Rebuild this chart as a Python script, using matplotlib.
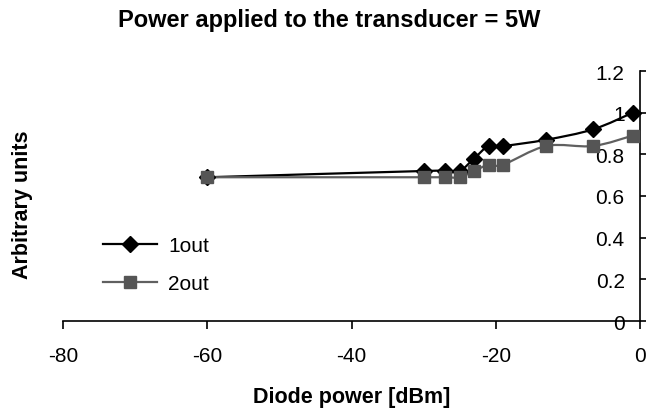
import numpy as np
import matplotlib
matplotlib.use("Agg")
import matplotlib.pyplot as plt
from matplotlib.path import Path
from matplotlib.patches import PathPatch
from matplotlib.lines import Line2D

plt.rcParams['font.family'] = ['Liberation Sans', 'DejaVu Sans']

diode_power = [-60, -30, -27, -25, -23, -21, -19, -13, -6.5, -1]
out1 = [0.69, 0.72, 0.72, 0.72, 0.78, 0.84, 0.84, 0.87, 0.92, 1.00]
out2 = [0.69, 0.69, 0.69, 0.69, 0.72, 0.75, 0.75, 0.84, 0.84, 0.89]
series_names = ["1out", "2out"]
x_ticks = [-80, -60, -40, -20, 0]
y_ticks = [0, 0.2, 0.4, 0.6, 0.8, 1.0, 1.2]
y_tick_labels = ["0", "0.2", "0.4", "0.6", "0.8", "1", "1.2"]

FS = 15

fig = plt.figure(figsize=(6.46, 4.10), dpi=100)
ax = fig.add_axes([63/646, 1-322/410, (640-63)/646, (322-72)/410])


def smooth_path(xs, ys):
    pts = np.column_stack([xs, ys]).astype(float)
    n = len(pts)
    verts = [pts[0]]
    codes = [Path.MOVETO]
    for i in range(n - 1):
        p0 = pts[i - 1] if i > 0 else pts[i]
        p1 = pts[i]
        p2 = pts[i + 1]
        p3 = pts[i + 2] if i + 2 < n else pts[i + 1]
        c1 = p1 + (p2 - p0) / 6.0
        c2 = p2 - (p3 - p1) / 6.0
        verts += [c1, c2, p2]
        codes += [Path.CURVE4] * 3
    return Path(verts, codes)


styles = [
    dict(color='#000000', lcolor='#000000', marker='D', ms=8.5, lw=1.6),
    dict(color='#555555', lcolor='#606060', marker='s', ms=9, lw=1.6),
]
handles = []
for ys, st, name in zip([out1, out2], styles, series_names):
    patch = PathPatch(smooth_path(diode_power, ys), facecolor='none',
                      edgecolor=st['lcolor'], lw=st['lw'], zorder=2)
    ax.add_patch(patch)
    ax.plot(diode_power, ys, linestyle='none', marker=st['marker'],
            ms=st['ms'], color=st['color'], zorder=3, clip_on=False)
    handles.append(Line2D([], [], color=st['lcolor'], lw=st['lw'],
                          marker=st['marker'], ms=st['ms'],
                          markerfacecolor=st['color'], markeredgecolor=st['color']))

ax.set_xlim(-80, 0)
ax.set_ylim(0, 1.2)
ax.set_xticks(x_ticks)
ax.set_xticklabels([str(v) for v in x_ticks])
ax.set_yticks(y_ticks)
ax.set_yticklabels(y_tick_labels)

for s in ['top', 'right']:
    ax.spines[s].set_visible(False)
ax.spines['left'].set_position(('data', 0))
ax.spines['left'].set_linewidth(1.2)
ax.spines['bottom'].set_linewidth(1.2)
ax.tick_params(axis='y', direction='in', length=6, width=1.2, pad=11, labelsize=FS)
ax.tick_params(axis='x', direction='out', length=6, width=1.2, pad=12, labelsize=FS)

ax.set_xlabel("Diode power [dBm]", fontsize=15.5, fontweight='bold')
ax.xaxis.set_label_coords(0.5, -0.262)
ax.set_ylabel("Arbitrary units", fontsize=15.5, fontweight='bold')
ax.yaxis.set_label_coords(-0.052, 0.47)

fig.suptitle("Power applied to the transducer = 5W", x=0.51, y=1-9/410,
             va='top', fontsize=17, fontweight='bold')

ax.legend(handles, series_names, loc='upper left', bbox_to_anchor=(0.069, 0.34),
          frameon=False, fontsize=FS, handlelength=2.6, handletextpad=0.53,
          labelspacing=0.92, borderpad=0, borderaxespad=0)

fig.savefig("out.png", dpi=100)
